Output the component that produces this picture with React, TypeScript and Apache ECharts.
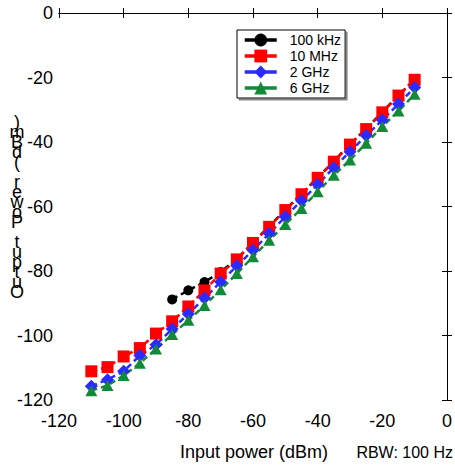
import React, { useEffect, useRef } from "react";
import * as echarts from "echarts";

const xValues = [-110, -105, -100, -95, -90, -85, -80, -75, -70, -65, -60, -55, -50, -45, -40, -35, -30, -25, -20, -15, -10];
const x100k = [-85, -80, -75, -70, -65, -60, -55, -50, -45, -40, -35, -30, -25, -20, -15, -10];
const y100k = [-88.8, -86.0, -83.4, -80.3, -76.3, -71.2, -66.2, -61.0, -56.1, -51.0, -46.0, -40.7, -35.9, -30.7, -25.5, -20.6];
const y10M = [-111.1, -109.8, -106.5, -103.9, -99.4, -95.6, -91.0, -86.0, -80.8, -76.4, -71.3, -66.3, -61.1, -56.2, -51.1, -46.1, -40.8, -36.0, -30.8, -25.6, -20.7];
const y2G = [-115.7, -113.7, -111.1, -106.2, -102.9, -98.0, -93.3, -88.4, -83.4, -78.4, -73.6, -68.4, -63.2, -58.2, -53.2, -48.0, -43.0, -38.0, -33.2, -28.2, -23.1];
const y6G = [-117.1, -115.5, -112.4, -108.6, -104.2, -99.7, -95.3, -90.7, -85.8, -80.8, -75.6, -70.5, -65.6, -60.6, -55.4, -50.3, -45.6, -40.4, -35.2, -30.4, -25.2];
const seriesNames = ["100 kHz", "10 MHz", "2 GHz", "6 GHz"];
const xTicks = { min: -120, max: 0, interval: 20 };
const yTicks = { min: -120, max: 0, interval: 20 };
const xName = "Input power (dBm)";
const yName = "Output Power (dBm)";
const note = "RBW: 100 Hz";

const zip = (xs: number[], ys: number[]) => xs.map((x, i) => [x, ys[i]]);

export default function App() {
  const ref = useRef<HTMLDivElement>(null);
  useEffect(() => {
    document.body.style.margin = "0";
    const chart = echarts.init(ref.current!, null, { renderer: "svg" });
    const font = "Arial, 'Liberation Sans', sans-serif";
    const axisCommon = {
      type: "value" as const,
      axisLine: { show: true, lineStyle: { color: "#000", width: 1 } },
      axisTick: { show: true, inside: true, length: 5, lineStyle: { color: "#000" } },
      splitLine: { show: false },
    };
    const mk = (name: string, data: number[][], color: string, symbol: string, size: number | number[]) => ({
      name,
      type: "line",
      data,
      symbol,
      symbolSize: size,
      showAllSymbol: true,
      itemStyle: { color },
      lineStyle: { color, width: 2.5, type: [6, 4] },
      xAxisIndex: 0,
      yAxisIndex: 0,
    });
    chart.setOption({
      animation: false,
      textStyle: { fontFamily: font },
      grid: { left: 59, top: 13, right: 8, bottom: 66, containLabel: false },
      xAxis: [
        {
          ...axisCommon,
          ...xTicks,
          position: "bottom",
          axisLabel: { color: "#000", fontSize: 18, margin: 12, fontFamily: font },
        },
        {
          ...axisCommon,
          ...xTicks,
          position: "top",
          axisLabel: { show: false },
        },
      ],
      yAxis: [
        {
          ...axisCommon,
          ...yTicks,
          position: "left",
          axisLabel: { color: "#000", fontSize: 18, margin: 6, fontFamily: font },
        },
        {
          ...axisCommon,
          ...yTicks,
          position: "right",
          axisLabel: { show: false },
        },
      ],
      legend: {
        data: seriesNames,
        orient: "vertical",
        left: 237,
        top: 30,
        padding: [3, 4, 3, 6],
        itemGap: 2,
        itemWidth: 32,
        itemHeight: 16,
        backgroundColor: "#fff",
        borderColor: "#000",
        borderWidth: 1,
        shadowColor: "#888",
        shadowBlur: 0,
        shadowOffsetX: 2,
        shadowOffsetY: 2,
        lineStyle: { type: "solid", width: 3.5 },
        textStyle: { color: "#000", fontSize: 14, fontFamily: font, padding: [0, 0, 0, 8] },
      },
      graphic: [
        {
          type: "text",
          x: 17,
          y: 117,
          style: {
            text: yName.split("").reverse().join("\n"),
            font: `18px ${font}`,
            lineHeight: 10,
            align: "center",
            verticalAlign: "top",
            fill: "#000",
          },
        },
        {
          type: "text",
          x: 254,
          y: 452,
          style: { text: xName, font: `18px ${font}`, align: "center", verticalAlign: "middle", fill: "#000" },
        },
        {
          type: "text",
          x: 453,
          y: 452,
          style: { text: note, font: `16px ${font}`, align: "right", verticalAlign: "middle", fill: "#000" },
        },
      ],
      series: [
        mk(seriesNames[0], zip(x100k, y100k), "#000000", "circle", 10),
        mk(seriesNames[1], zip(xValues, y10M), "#ff0000", "rect", 12),
        mk(seriesNames[2], zip(xValues, y2G), "#2b2bff", "diamond", 13),
        mk(seriesNames[3], zip(xValues, y6G), "#138a38", "triangle", [12, 11]),
      ],
    });
    return () => chart.dispose();
  }, []);
  return <div ref={ref} style={{ position: "absolute", left: 0, top: 0, width: 455, height: 466 }} />;
}
